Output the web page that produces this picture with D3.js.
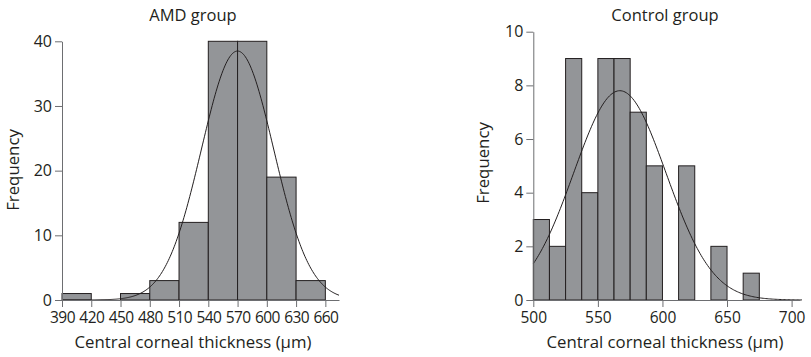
<!DOCTYPE html>
<html>
<head>
<meta charset="utf-8">
<script src="https://cdn.jsdelivr.net/npm/d3@7"></script>
<style>
    body { margin: 0; background: #fff; }
    text { font-family: "Open Sans", sans-serif; fill: #231f20; }
</style>
</head>
<body>
<svg id="chart" width="811" height="357"></svg>
<script>
    // AMD group histogram (bin width 30)
    const amdBinStarts = [390, 420, 450, 480, 510, 540, 570, 600, 630];
    const amdCounts = [1, 0, 1, 3, 12, 40, 40, 19, 3];
    const amdTicksX = [390, 420, 450, 480, 510, 540, 570, 600, 630, 660];
    const amdTicksY = [0, 10, 20, 30, 40];
    const amdFit = { mean: 570, sd: 37, n: 119, width: 30 };

    // Control group histogram (bin width 12.5)
    const ctlBinStarts = [500, 512.5, 525, 537.5, 550, 562.5, 575, 587.5, 600, 612.5, 625, 637.5, 650, 662.5];
    const ctlCounts = [3, 2, 9, 4, 9, 9, 7, 5, 0, 5, 0, 2, 0, 1];
    const ctlTicksX = [500, 550, 600, 650, 700];
    const ctlTicksY = [0, 2, 4, 6, 8, 10];
    const ctlFit = { mean: 567, sd: 35.8, n: 56, width: 12.5 };

    const svg = d3.select("#chart");

    function drawHist(opt) {
        let g = svg.append("g");
        let x = d3.scaleLinear().domain(opt.xDomain).range([opt.left, opt.right]);
        let y = d3.scaleLinear().domain(opt.yDomain).range([opt.bottom, opt.top]);

        let bins = opt.starts.map((s, i) => ({ x0: s, x1: s + opt.fit.width, n: opt.counts[i] }))
            .filter(d => d.n > 0);

        g.selectAll("rect.bar")
            .data(bins)
            .enter()
            .append("rect")
            .attr("class", "bar")
            .attr("x", d => x(d.x0))
            .attr("width", d => x(d.x1) - x(d.x0))
            .attr("y", d => y(d.n))
            .attr("height", d => y(0) - y(d.n))
            .attr("fill", "#939598")
            .attr("stroke", "#231f20")
            .attr("stroke-width", 1);

        // fitted normal curve
        let pts = d3.range(opt.xDomain[0], opt.curveEnd + 0.01, 1).map(v => {
            let z = (v - opt.fit.mean) / opt.fit.sd;
            return [v, opt.fit.n * opt.fit.width * Math.exp(-0.5 * z * z) / (opt.fit.sd * Math.sqrt(2 * Math.PI))];
        });
        g.append("path")
            .datum(pts)
            .attr("fill", "none")
            .attr("stroke", "#231f20")
            .attr("stroke-width", 1)
            .attr("d", d3.line().x(d => x(d[0])).y(d => y(d[1])));

        // axes
        let xAxis = g.append("g")
            .attr("transform", "translate(0," + opt.bottom + ")")
            .call(d3.axisBottom(x).tickValues(opt.ticksX).tickSize(7).tickSizeOuter(0).tickPadding(5));
        let yAxis = g.append("g")
            .attr("transform", "translate(" + opt.left + ",0)")
            .call(d3.axisLeft(y).tickValues(opt.ticksY).tickSize(7).tickSizeOuter(0).tickPadding(3));
        [xAxis, yAxis].forEach(a => {
            a.select(".domain").attr("stroke", "#6d6e71");
            a.selectAll(".tick line").attr("stroke", "#6d6e71");
            a.selectAll(".tick text")
                .attr("font-family", "Open Sans, sans-serif")
                .attr("font-size", 16)
                .attr("fill", "#231f20");
        });
        xAxis.selectAll(".tick text")
            .attr("font-size", 15.5)
            .attr("letter-spacing", opt.tickSpacing);

        g.append("text")
            .attr("x", opt.titleX).attr("y", 21)
            .attr("text-anchor", "middle")
            .attr("font-size", 16.5)
            .text(opt.title);
        g.append("text")
            .attr("x", opt.titleX).attr("y", 348)
            .attr("text-anchor", "middle")
            .attr("font-size", 16.8)
            .text("Central corneal thickness (µm)");
        g.append("text")
            .attr("transform", "translate(" + opt.ylabX + "," + opt.ylabY + ") rotate(-90)")
            .attr("text-anchor", "middle")
            .attr("font-size", 16.8)
            .text("Frequency");
    }

    drawHist({
        starts: amdBinStarts, counts: amdCounts, fit: amdFit,
        ticksX: amdTicksX, ticksY: amdTicksY, tickSpacing: -0.6,
        xDomain: [390, 674], yDomain: [0, 40], curveEnd: 674,
        left: 62, right: 339, top: 41.3, bottom: 300,
        title: "AMD group", titleX: 193, ylabX: 19, ylabY: 170
    });

    drawHist({
        starts: ctlBinStarts, counts: ctlCounts, fit: ctlFit,
        ticksX: ctlTicksX, ticksY: ctlTicksY, tickSpacing: 0,
        xDomain: [500, 706.5], yDomain: [0, 10], curveEnd: 708,
        left: 533.3, right: 800, top: 31.7, bottom: 300,
        title: "Control group", titleX: 665, ylabX: 489, ylabY: 163
    });
</script>
</body>
</html>
